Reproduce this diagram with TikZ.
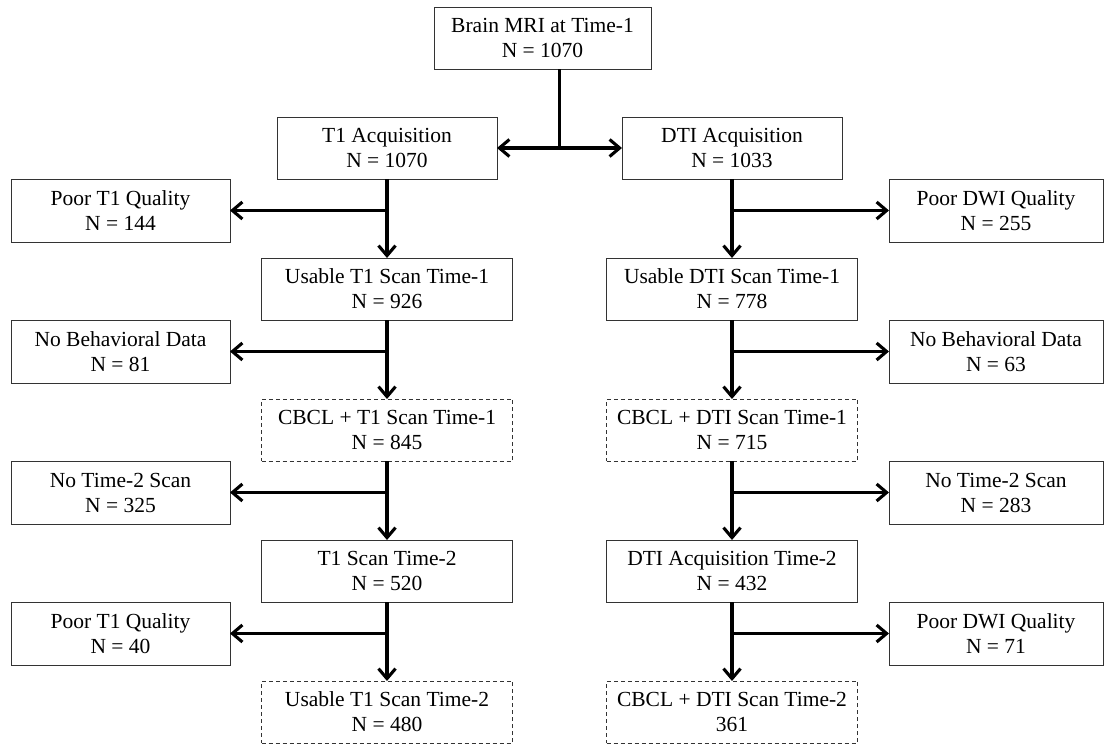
\documentclass[tikz,border=0pt]{standalone}
\usepackage{fontspec}
\setmainfont{Liberation Serif}
\usetikzlibrary{arrows.meta,positioning,calc}
\tikzset{
    %Define standard arrow tip
    >={Straight Barb[length=10pt,width=17pt]},
    %Define style for boxes
    kasse/.style={
           rectangle,
           draw=black!80, line width=0.9pt,
           outer sep=0pt,
           minimum width=251pt,
           minimum height=62pt,
           align=center,
           font=\fontsize{21.5}{25}\selectfont},
    %Dashed boxes
    stiplet/.style={
           kasse,
           dash pattern=on 4pt off 3pt},
    %Boxes for exclusions
    ude/.style={
           kasse,
           minimum width=219pt,
           minimum height=63pt},
    % Define arrow style
    pil/.style={
           ->,
           line width=3.1pt}
}
\begin{document}
\begin{tikzpicture}[x=1pt,y=-1pt,node distance=79pt]
\useasboundingbox (0,0) rectangle (1104,744);
 \node[kasse,minimum width=217pt](mri) at (542.5,38){Brain MRI at Time-1\\N = 1070};
 % T1 column
 \node[kasse,minimum width=220pt](acqT1) at (387,148){T1 Acquisition\\N = 1070};
 \node[kasse,below=of acqT1](usT1){Usable T1 Scan Time-1\\N = 926};
 \node[stiplet,below=of usT1](cbT1){CBCL + T1 Scan Time-1\\N = 845};
 \node[kasse,below=of cbT1](scT1){T1 Scan Time-2\\N = 520};
 \node[stiplet,below=of scT1](us2T1){Usable T1 Scan Time-2\\N = 480};
 \node[ude,below left=0pt and 157pt of acqT1.south](poorT1){Poor T1 Quality\\N = 144};
 \node[ude,below left=0pt and 157pt of usT1.south](behT1){No Behavioral Data\\N = 81};
 \node[ude,below left=0pt and 157pt of cbT1.south](noT1){No Time-2 Scan\\N = 325};
 \node[ude,below left=0pt and 157pt of scT1.south](poor2T1){Poor T1 Quality\\N = 40};
 % DTI column
 \node[kasse,minimum width=220pt](acqDTI) at (732,148){DTI Acquisition\\N = 1033};
 \node[kasse,below=of acqDTI](usDTI){Usable DTI Scan Time-1\\N = 778};
 \node[stiplet,below=of usDTI](cbDTI){CBCL + DTI Scan Time-1\\N = 715};
 \node[kasse,below=of cbDTI](scDTI){DTI Acquisition Time-2\\N = 432};
 \node[stiplet,below=of scDTI](cb2DTI){CBCL + DTI Scan Time-2\\361};
 \node[ude,minimum width=214pt,below right=0pt and 157pt of acqDTI.south](poorDWI){Poor DWI Quality\\N = 255};
 \node[ude,minimum width=214pt,below right=0pt and 157pt of usDTI.south](behDTI){No Behavioral Data\\N = 63};
 \node[ude,minimum width=214pt,below right=0pt and 157pt of cbDTI.south](noDTI){No Time-2 Scan\\N = 283};
 \node[ude,minimum width=214pt,below right=0pt and 157pt of scDTI.south](poor2DWI){Poor DWI Quality\\N = 71};
 % split
 \coordinate (midt) at ($(acqT1.east)!0.5!(acqDTI.west)$);
 \draw[line width=3.1pt] (midt |- mri.south) -- (midt);
 \draw[pil,<->] (acqT1.east) -- (acqDTI.west);
 % arrows down the columns
 \foreach \a/\b/\s in {acqT1/usT1/poorT1,usT1/cbT1/behT1,cbT1/scT1/noT1,scT1/us2T1/poor2T1,
                       acqDTI/usDTI/poorDWI,usDTI/cbDTI/behDTI,cbDTI/scDTI/noDTI,scDTI/cb2DTI/poor2DWI}{
   \draw[pil] (\a.south) -- (\b.north);
   \draw[pil] (\a.south |- \s.center) -- (\s);
 }
\end{tikzpicture}
\end{document}
